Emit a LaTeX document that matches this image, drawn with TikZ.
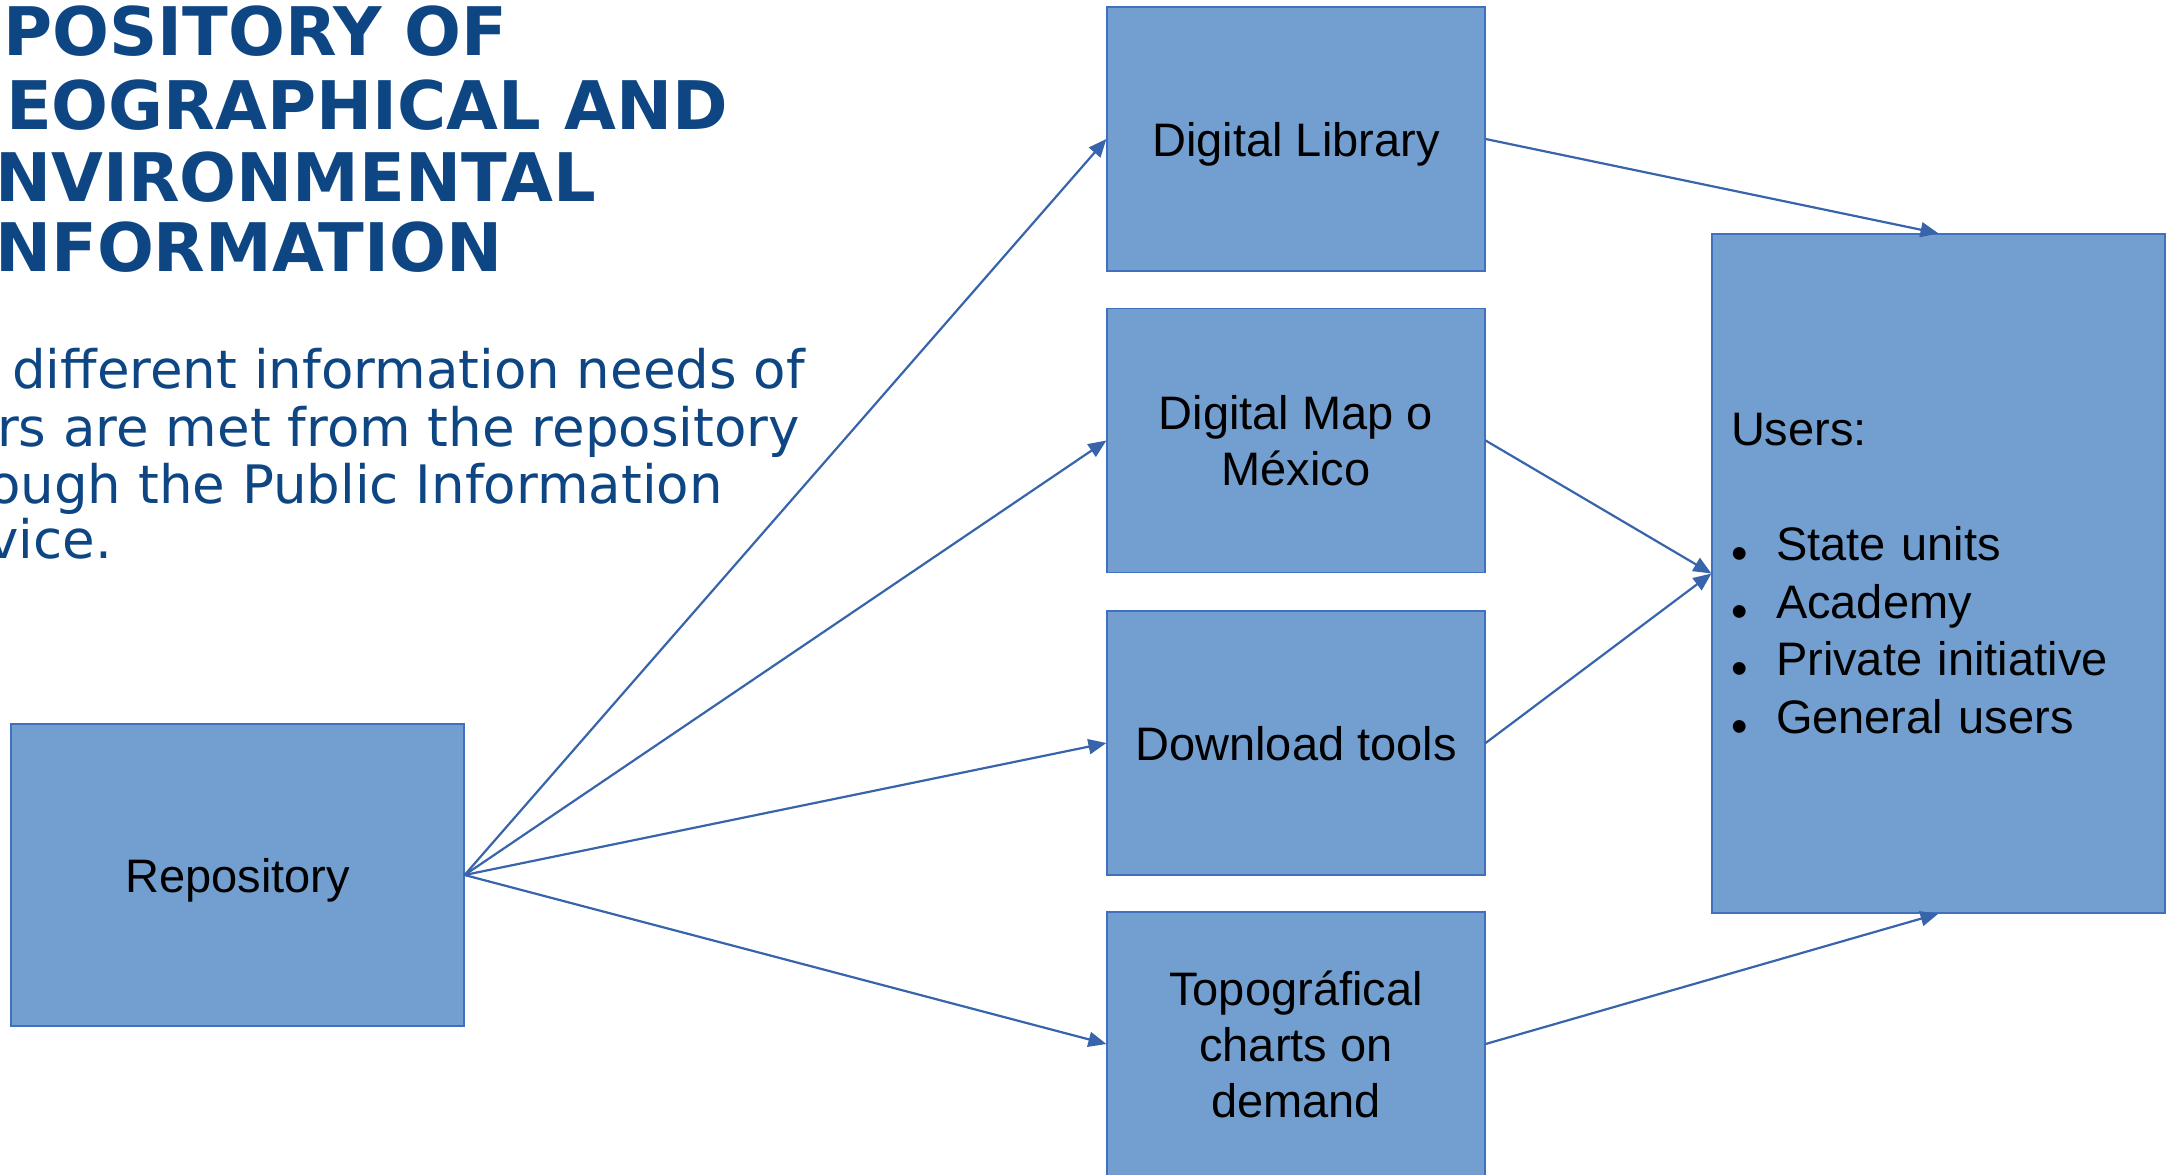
\documentclass[tikz,border=0pt]{standalone}
\usepackage{fontspec}
\setmainfont{Liberation Sans}
\newfontfamily\headfont{DejaVu Sans}
\usetikzlibrary{arrows.meta}
\usepackage{xcolor}
\definecolor{boxfill}{RGB}{114,159,207}
\definecolor{boxline}{RGB}{65,113,190}
\definecolor{linkblue}{RGB}{55,100,170}
\definecolor{headblue}{RGB}{14,70,132}
\newcommand{\userbullet}{\makebox[45pt][l]{\raisebox{-9pt}[0pt][0pt]{\textbullet}}}

\begin{document}
\begin{tikzpicture}[x=1pt, y=-1pt,
  box/.style={rectangle, draw=boxline, line width=1.2pt, fill=boxfill, text=black, align=center, text depth=0pt, font=\fontsize{47}{56}\selectfont},
  link/.style={draw=linkblue, line width=2.2pt, -{Triangle[length=18pt,width=15pt]}},
  headline/.style={anchor=base west, text=headblue, inner sep=0pt, font=\headfont\bfseries\fontsize{67}{72}\selectfont},
  blurb/.style={anchor=base west, text=headblue, inner sep=0pt, font=\headfont\fontsize{53}{57}\selectfont}]
  \useasboundingbox (0,0) rectangle (2172,1175);
  % heading and text, cut off at the left edge
  \node[headline] (head1) at (3,55) {POSITORY OF};
  \node[headline] (head2) at (6,129) {EOGRAPHICAL AND};
  \node[headline] (head3) at (-5,201) {NVIRONMENTAL};
  \node[headline] (head4) at (-5,271) {NFORMATION};
  \node[blurb] (text1) at (12,388) {different information needs of};
  \node[blurb] (text2) at (-3,446) {rs are met from the repository};
  \node[blurb] (text3) at (-12,503) {ough the Public Information};
  \node[blurb] (text4) at (-13,558) {vice.};
  % boxes
  \node[box, minimum width=453pt, minimum height=302pt] (repo) at (237.5,875) {Repository};
  \node[box, minimum width=378pt, minimum height=264pt] (lib) at (1296,139) {Digital Library};
  \node[box, minimum width=378pt, minimum height=264pt] (map) at (1296,440.5) {Digital Map o\\México};
  \node[box, minimum width=378pt, minimum height=264pt] (tools) at (1296,743) {Download tools};
  \node[box, minimum width=378pt, minimum height=264pt] (charts) at (1296,1044) {Topográfical\\charts on\\demand};
  \node[box, minimum width=453pt, minimum height=679pt, inner sep=19pt, text width=415pt, align=left, text depth={}, font=\fontsize{47}{57.6}\selectfont] (users) at (1938.5,573.5) {Users:\\[57.6pt]
    \userbullet State units\\
    \userbullet Academy\\
    \userbullet Private initiative\\
    \userbullet General users};
  % connectors
  \draw[link] (repo.east) -- (lib.west);
  \draw[link] (repo.east) -- (map.west);
  \draw[link] (repo.east) -- (tools.west);
  \draw[link] (repo.east) -- (charts.west);
  \draw[link] (lib.east) -- (users.north);
  \draw[link] (map.east) -- (users.west);
  \draw[link] (tools.east) -- (users.west);
  \draw[link] (charts.east) -- (users.south);
\end{tikzpicture}
\end{document}
